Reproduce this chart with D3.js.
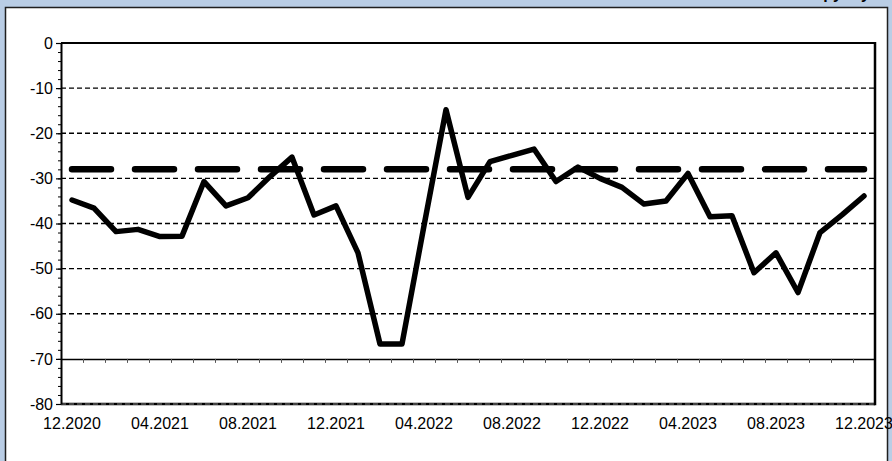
<!DOCTYPE html>
<html><head><meta charset="utf-8">
<script src="https://cdn.jsdelivr.net/npm/d3@7/dist/d3.min.js"></script>
<style>
html,body{margin:0;padding:0;background:#b9cde5;}
svg{display:block;font-family:"Liberation Sans",Arial,sans-serif;}
</style></head><body>
<svg id="c" width="892" height="461"></svg>
<script>
const months = ["12.2020","01.2021","02.2021","03.2021","04.2021","05.2021","06.2021","07.2021","08.2021","09.2021","10.2021","11.2021",
"12.2021","01.2022","02.2022","03.2022","04.2022","05.2022","06.2022","07.2022","08.2022","09.2022","10.2022","11.2022",
"12.2022","01.2023","02.2023","03.2023","04.2023","05.2023","06.2023","07.2023","08.2023","09.2023","10.2023","11.2023","12.2023"];
const values = [-34.8,-36.6,-41.8,-41.3,-42.9,-42.8,-30.7,-36.1,-34.3,-29.6,-25.3,-38.1,
-36.1,-46.5,-66.7,-66.7,-40.5,-14.8,-34.2,-26.3,-24.9,-23.5,-30.7,-27.5,
-30.0,-32.0,-35.7,-35.0,-28.9,-38.5,-38.3,-50.9,-46.5,-55.3,-42.0,-38.1,-33.9];
const average = -28;
const xTickLabels = ["12.2020","04.2021","08.2021","12.2021","04.2022","08.2022","12.2022","04.2023","08.2023","12.2023"];
const yTicks = [0,-10,-20,-30,-40,-50,-60,-70,-80];
const gridValues = [-10,-20,-30,-40,-50,-60];
const titleText = "по группу";

const svg = d3.select("#c");
const L = 61, R = 875, T = 43, B = 404;

// panel
svg.append("rect").attr("x",5.5).attr("y",7.5).attr("width",882).attr("height",470)
  .attr("fill","#fff").attr("stroke","#1f1f1f").attr("stroke-width",1.5);

svg.append("text").attr("x",870).attr("y",-1).attr("text-anchor","end")
  .attr("font-weight","bold").attr("font-size",16).attr("fill","#000").text(titleText);

const x = d3.scaleBand().domain(months).range([L,R]).padding(0);
const xl = d3.scaleLinear().domain([0,months.length]).range([L,R]);
const y = d3.scaleLinear().domain([-80,0]).range([B,T]);

// gridlines
svg.append("g").selectAll("line").data(gridValues).join("line")
  .attr("x1",L).attr("x2",R).attr("y1",d=>y(d)).attr("y2",d=>y(d))
  .attr("stroke","#000").attr("stroke-width",1.3).attr("stroke-dasharray","5,3");

// top border, bottom border
svg.append("line").attr("x1",L).attr("x2",R).attr("y1",y(0)).attr("y2",y(0)).attr("stroke","#000").attr("stroke-width",2);
svg.append("line").attr("x1",L).attr("x2",R).attr("y1",y(-80)).attr("y2",y(-80)).attr("stroke","#000").attr("stroke-width",2.5);
svg.append("line").attr("x1",L).attr("x2",R).attr("y1",y(-80)).attr("y2",y(-80)).attr("stroke","#888").attr("stroke-width",1).attr("stroke-dasharray","5,3");
// right border
svg.append("line").attr("x1",R).attr("x2",R).attr("y1",T-1).attr("y2",B+1.2).attr("stroke","#000").attr("stroke-width",2.5);

// x axis at -70 (ticks between categories)
const xAxis = d3.axisBottom(xl).tickValues(d3.range(1,months.length)).tickSize(4).tickFormat("").tickSizeOuter(0);
const gx = svg.append("g").attr("transform",`translate(0,${y(-70)})`).call(xAxis);
gx.select(".domain").attr("stroke","#000").attr("stroke-width",1.5);
gx.selectAll(".tick line").attr("stroke","#555").attr("stroke-width",1);

// x labels
const xLab = d3.axisBottom(x).tickValues(xTickLabels).tickSize(0).tickPadding(14);
const gxl = svg.append("g").attr("transform",`translate(0,${B})`).call(xLab);
gxl.select(".domain").remove();
gxl.selectAll("text").attr("font-size",16).attr("font-family","Liberation Sans, Arial, sans-serif").attr("fill","#000");

// y axis
const yMinor = d3.axisLeft(y).tickValues(d3.range(-80,1,2)).tickSize(3).tickFormat("");
const gym = svg.append("g").attr("transform",`translate(${L},0)`).call(yMinor);
gym.select(".domain").remove();
gym.selectAll(".tick line").attr("stroke","#000").attr("stroke-width",1);
const yAxis = d3.axisLeft(y).tickValues(yTicks).tickSize(5).tickPadding(3).tickFormat(d3.format("d")).tickSizeOuter(0);
const gy = svg.append("g").attr("transform",`translate(${L},0)`).call(yAxis);
gy.select(".domain").attr("stroke","#000").attr("stroke-width",2);
gy.selectAll(".tick line").attr("stroke","#000").attr("stroke-width",1.2);
gy.selectAll("text").attr("font-size",16).attr("font-family","Liberation Sans, Arial, sans-serif").attr("fill","#000")
  .text(d=>d===0?"0":"-"+Math.abs(d));

const cx = d => x(d) + x.bandwidth()/2;

// average dashed line
const avgLine = d3.line().x(d=>cx(d)).y(()=>y(average));
svg.append("path").datum(months).attr("d",avgLine).attr("fill","none")
  .attr("stroke","#000").attr("stroke-width",6.5).attr("stroke-linecap","round")
  .attr("stroke-dasharray","39,24");

// main series
const line = d3.line().x((d,i)=>cx(months[i])).y(d=>y(d));
svg.append("path").datum(values).attr("d",line).attr("fill","none")
  .attr("stroke","#000").attr("stroke-width",5.5).attr("stroke-linejoin","round").attr("stroke-linecap","round");
</script></body></html>
